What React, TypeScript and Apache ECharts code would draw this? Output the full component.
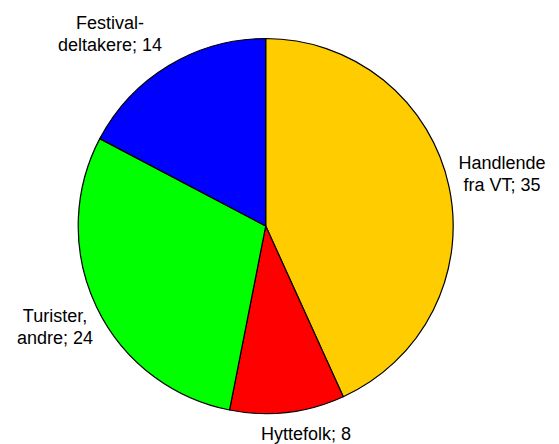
import React, { useEffect, useRef } from "react";
import * as echarts from "echarts";

const categories = ["Handlende\nfra VT", "Hyttefolk", "Turister,\nandre", "Festival-\ndeltakere"];
const values = [35, 8, 24, 14];
const colors = ["#FFCC00", "#FF0000", "#00FF00", "#0000FF"];
const labelPositions: [number, number][] = [
  [502, 174],
  [306, 434],
  [55, 327],
  [110, 34],
];

export default function App() {
  const ref = useRef<HTMLDivElement>(null);
  useEffect(() => {
    if (!ref.current) return;
    document.body.style.margin = "0";
    const chart = echarts.init(ref.current, undefined, { renderer: "svg" });
    chart.setOption({
      animation: false,
      backgroundColor: "#ffffff",
      series: [
        {
          type: "pie",
          center: [265.7, 226],
          radius: 187.5,
          startAngle: 90,
          clockwise: true,
          avoidLabelOverlap: false,
          data: categories.map((name, i) => ({
            name,
            value: values[i],
            itemStyle: { color: colors[i] },
          })),
          itemStyle: { borderColor: "#000000", borderWidth: 1.2 },
          label: {
            show: true,
            position: "outside",
            formatter: "{b}; {c}",
            fontFamily: "Arial, 'Liberation Sans', sans-serif",
            fontSize: 18,
            lineHeight: 22,
            color: "#000000",
            align: "center",
          },
          labelLine: { show: false },
          labelLayout: (params: any) => {
            const p = labelPositions[params.dataIndex];
            return { x: p[0], y: p[1], align: "center", verticalAlign: "middle" };
          },
          emphasis: { disabled: true },
        },
      ],
    });
    return () => chart.dispose();
  }, []);
  return <div ref={ref} style={{ position: "fixed", left: 0, top: 0, width: 559, height: 444 }} />;
}
